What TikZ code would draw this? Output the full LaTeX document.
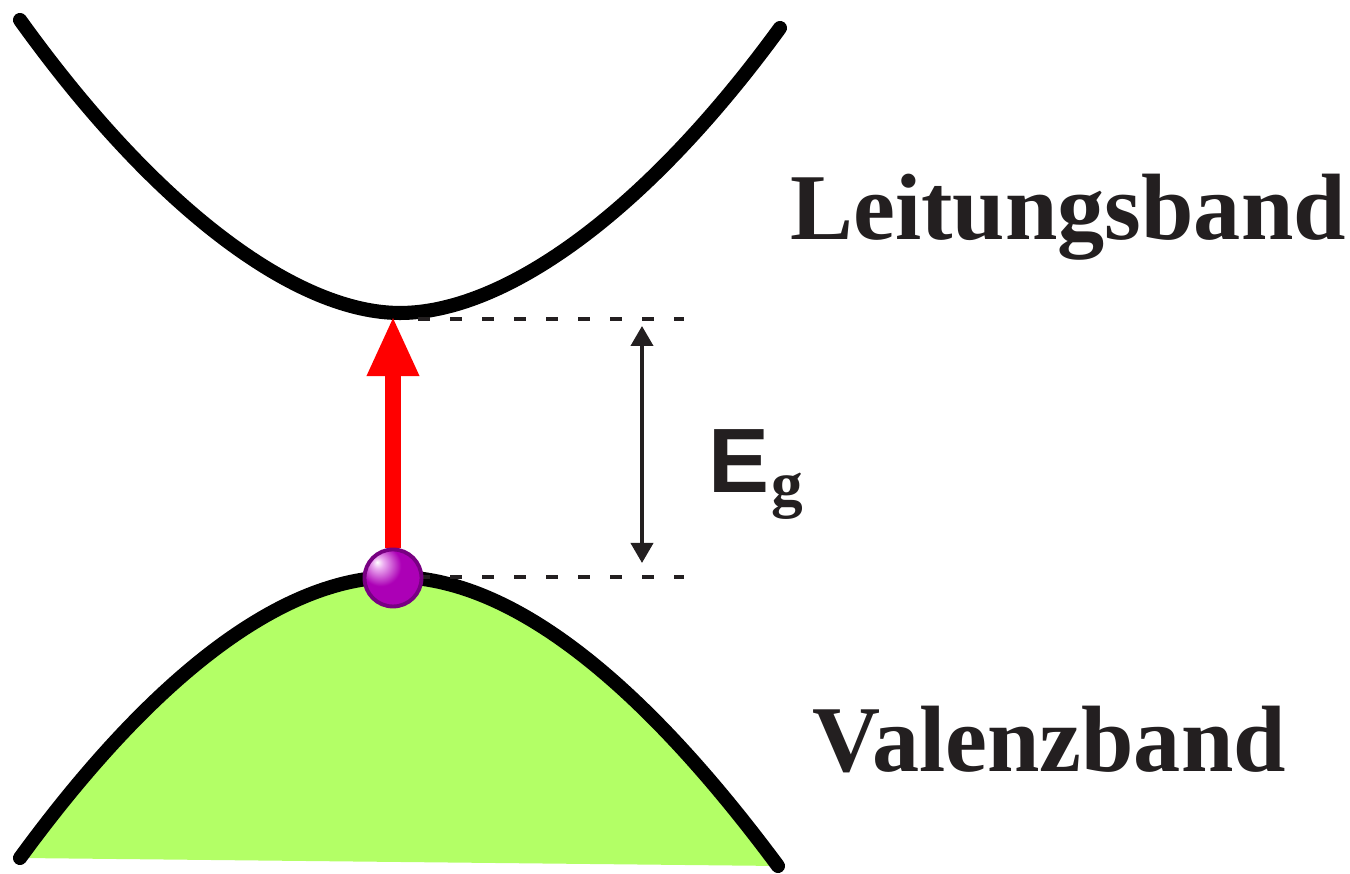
\documentclass[tikz,border=0pt]{standalone}
\usepackage{fontspec}
\setmainfont{Liberation Serif}
\newfontfamily\arialf{Liberation Sans}
\usetikzlibrary{arrows.meta,shadings}
\definecolor{txt}{RGB}{35,31,32}
\definecolor{bandgreen}{RGB}{179,255,102}
\definecolor{ballhi}{RGB}{235,170,240}
\definecolor{ballpurple}{RGB}{172,0,182}
\definecolor{balldark}{RGB}{140,0,150}
\definecolor{balledge}{RGB}{120,0,130}
\pgfdeclareradialshading{electron}{\pgfpoint{-14bp}{14bp}}{%
  color(0bp)=(white); color(5bp)=(ballhi); color(18bp)=(ballpurple);
  color(45bp)=(ballpurple); color(62bp)=(balldark); color(80bp)=(balldark)}
\tikzset{
  band/.style={line width=4pt, line cap=round, black},
  gapline/.style={line width=1.2pt, dash pattern=on 3.4pt off 5.7pt, txt},
  label/.style={font=\bfseries\fontsize{26.8}{30}\selectfont, text=txt, inner sep=0pt},
}
\begin{document}
\begin{tikzpicture}[x=0.01cm,y=-0.01cm]
\useasboundingbox (0,0) rectangle (1350,874);
% valence band fill
\fill[bandgreen] (20,858) .. controls (150,680) and (280,577) .. (395,577)
  .. controls (510,577) and (640,680) .. (778,866) -- cycle;
% bands
\draw[band] (20,20) .. controls (160,215) and (300,313) .. (400,313)
  .. controls (500,313) and (640,220) .. (780,28);
\draw[band] (20,858) .. controls (150,680) and (280,577) .. (395,577)
  .. controls (510,577) and (640,680) .. (778,866);
% coordinates
\coordinate (cbmin) at (393,316);
\coordinate (u1) at (418,319);
\coordinate (u2) at (684,319);
\coordinate (l1) at (418,577);
\coordinate (l2) at (684,577);
\coordinate (a1) at (642,326);
\coordinate (a2) at (642,563);
% dashed lines
\draw[gapline] (u1) -- (u2);
\draw[gapline] (l1) -- (l2);
% double arrow
\draw[line width=1.1pt, txt, {Triangle[length=2mm,width=2.2mm]}-{Triangle[length=2mm,width=2.2mm]}] (a1) -- (a2);
% red arrow
\node[circle, minimum size=0.58cm, inner sep=0pt] (ball) at (393,578) {};
\draw[red, line width=4.6pt, -{Triangle[length=6mm,width=4.8mm]}] (ball.center) ++(0,-30) -- (cbmin);
% electron
\shade[shading=electron, draw=balledge, line width=1.1pt] (ball.center) circle (28.5);
% labels
\node[label, anchor=base west] (lb) at (790,240) {Leitungsband};
\node[label, anchor=base west] (vb) at (812,772) {Valenzband};
\node[inner sep=0pt, anchor=base west, text=txt, font=\arialf\bfseries\fontsize{26}{28}\selectfont] (E) at (708,493) {E};
\node[inner sep=0pt, anchor=base west, text=txt, font=\bfseries\fontsize{18}{20}\selectfont] (g) at (771,506) {g};
\end{tikzpicture}
\end{document}
